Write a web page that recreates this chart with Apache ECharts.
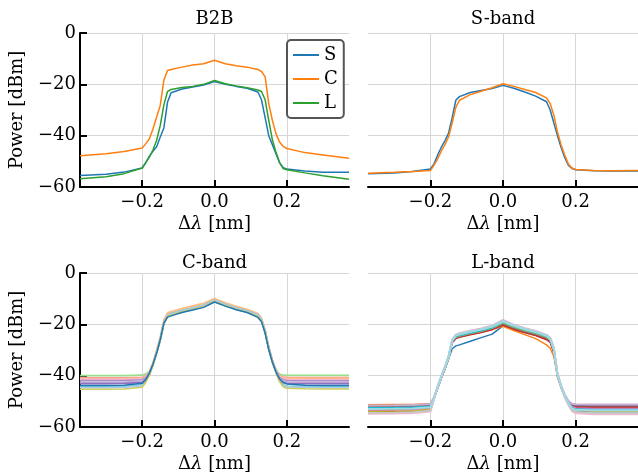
<!DOCTYPE html>
<html>
<head>
<meta charset="utf-8">
<script src="https://cdn.jsdelivr.net/npm/echarts@6/dist/echarts.min.js"></script>
<style>
  html, body { margin: 0; padding: 0; background: #fff; }
  #chart { width: 638px; height: 475px; }
</style>
</head>
<body>
<div id="chart"></div>
<script>
// Wavelength offset grid shared by every trace (nm)
const deltaLambda = [-0.372, -0.3, -0.25, -0.2, -0.19, -0.18, -0.17, -0.16, -0.15, -0.14, -0.13, -0.12, -0.09, -0.06, -0.03, 0,
  0.03, 0.06, 0.09, 0.12, 0.13, 0.14, 0.15, 0.16, 0.17, 0.18, 0.19, 0.2, 0.25, 0.3, 0.372];

const xTicks = [-0.2, 0, 0.2];
const yTicks = [0, -20, -40, -60];

const panelTitles = ['B2B', 'S-band', 'C-band', 'L-band'];
const b2bNames = ['S', 'C', 'L'];

// Back-to-back spectra (dBm)
const b2bS = [-55.5, -55.0, -54.2, -52.6, -50.5, -48.0, -46.0, -44.3, -40.5, -37.0, -27.0, -23.3, -21.8, -21.0, -20.3, -18.9,
  -20.0, -20.8, -21.5, -23.0, -26.0, -33.0, -40.0, -43.5, -47.0, -50.5, -52.5, -53.0, -53.8, -54.3, -54.3];
const b2bC = [-47.8, -47.0, -46.2, -44.8, -43.1, -41.2, -37.3, -32.7, -28.2, -18.4, -14.6, -14.2, -13.3, -12.5, -12.0, -10.6,
  -12.0, -12.8, -13.3, -14.2, -15.0, -17.0, -27.5, -34.0, -39.2, -42.5, -44.2, -45.0, -46.6, -47.5, -48.8];
const b2bL = [-56.8, -56.0, -54.8, -52.6, -50.5, -48.3, -45.5, -41.8, -36.0, -28.0, -22.8, -22.0, -21.2, -20.8, -20.0, -18.5,
  -19.8, -20.6, -21.3, -22.2, -22.8, -26.0, -34.0, -41.5, -46.5, -50.5, -52.8, -53.3, -54.5, -55.6, -57.0];

// S-band spectra
const sBandA = [-54.8, -54.5, -54.0, -53.0, -51.0, -47.5, -44.5, -42.0, -39.0, -33.0, -26.2, -24.8, -23.2, -22.4, -21.6, -20.4,
  -21.5, -23.0, -24.6, -26.8, -30.0, -35.0, -40.0, -44.5, -48.5, -51.5, -52.8, -53.3, -53.7, -53.8, -53.8];
const sBandB = [-54.6, -54.3, -54.0, -53.6, -51.5, -49.0, -46.0, -43.5, -40.5, -35.0, -29.0, -26.2, -24.0, -22.7, -21.3, -19.8,
  -20.8, -22.0, -23.2, -25.3, -27.5, -32.0, -38.5, -43.5, -47.5, -51.0, -52.6, -53.2, -53.6, -53.7, -53.6];

// C-band spectra, one list per channel
const cBandTraces = [
  [-40.0,-40.0,-40.0,-39.8,-39.3,-38.3,-35.0,-30.4,-25.3,-18.9,-16.2,-15.5,-14.4,-13.4,-12.4,-10.4,-12.1,-13.5,-14.6,-16.2,-17.9,-22.4,-28.9,-33.9,-37.6,-39.4,-39.8,-39.9,-39.9,-39.9,-39.9],
  [-40.8,-40.8,-40.8,-40.6,-40.0,-38.7,-35.2,-30.7,-25.7,-19.2,-16.6,-15.9,-14.7,-13.7,-12.7,-10.7,-12.3,-13.7,-14.8,-16.4,-18.1,-22.6,-29.1,-34.1,-37.9,-40.0,-40.5,-40.6,-40.7,-40.7,-40.7],
  [-41.2,-41.2,-41.1,-40.9,-40.2,-38.6,-34.8,-30.0,-24.8,-18.2,-15.5,-15.0,-13.8,-12.8,-11.8,-9.9,-11.6,-13.0,-14.1,-15.8,-17.5,-22.0,-28.6,-33.8,-37.8,-40.2,-40.8,-41.0,-41.0,-41.0,-41.0],
  [-41.4,-41.4,-41.4,-41.2,-40.5,-38.9,-35.3,-30.6,-25.6,-19.0,-16.4,-15.7,-14.5,-13.5,-12.5,-10.5,-12.1,-13.5,-14.6,-16.2,-17.9,-22.4,-28.9,-34.0,-37.9,-40.5,-41.2,-41.4,-41.5,-41.5,-41.5],
  [-41.9,-41.9,-41.9,-41.6,-40.8,-39.0,-35.5,-31.0,-26.0,-19.6,-17.0,-16.2,-15.0,-14.0,-13.0,-11.0,-12.6,-14.0,-15.1,-16.7,-18.5,-23.0,-29.4,-34.4,-38.1,-40.8,-41.6,-41.9,-42.0,-42.0,-42.0],
  [-42.5,-42.5,-42.5,-42.1,-41.2,-39.1,-35.6,-30.9,-25.9,-19.4,-16.8,-16.0,-14.8,-13.8,-12.8,-10.8,-12.4,-13.8,-14.9,-16.6,-18.3,-22.8,-29.3,-34.4,-38.2,-41.2,-42.1,-42.4,-42.5,-42.5,-42.5],
  [-43.1,-43.1,-43.0,-42.6,-41.5,-39.3,-35.7,-31.1,-26.1,-19.6,-17.0,-16.3,-15.1,-14.1,-13.1,-11.1,-12.7,-14.1,-15.2,-16.9,-18.6,-23.0,-29.5,-34.5,-38.4,-41.5,-42.6,-43.0,-43.1,-43.1,-43.1],
  [-44.2,-44.2,-44.1,-43.5,-42.0,-39.4,-35.6,-31.0,-25.8,-19.2,-16.6,-15.8,-14.6,-13.6,-12.6,-10.6,-12.2,-13.6,-14.7,-16.4,-18.1,-22.6,-29.2,-34.4,-38.4,-41.8,-43.4,-44.0,-44.2,-44.2,-44.2],
  [-44.7,-44.7,-44.6,-44.0,-42.3,-39.5,-35.7,-31.1,-26.0,-19.4,-16.8,-16.0,-14.8,-13.8,-12.8,-10.8,-12.4,-13.8,-14.9,-16.6,-18.3,-22.8,-29.4,-34.6,-38.6,-42.0,-43.8,-44.4,-44.6,-44.7,-44.7],
  [-45.3,-45.3,-45.2,-44.5,-42.6,-39.7,-35.9,-31.3,-26.2,-19.7,-17.1,-16.3,-15.1,-14.1,-13.1,-11.1,-12.7,-14.1,-15.2,-16.9,-18.6,-23.1,-29.7,-34.9,-38.9,-42.4,-44.3,-44.9,-45.1,-45.2,-45.2],
  [-43.8,-43.8,-43.7,-43.0,-41.5,-39.0,-35.5,-31.2,-26.0,-19.5,-17.2,-16.7,-15.4,-14.4,-13.4,-11.3,-12.9,-14.3,-15.4,-17.3,-19.0,-23.5,-29.8,-34.8,-38.6,-41.3,-42.7,-43.2,-43.7,-43.8,-43.8]
];

// L-band spectra, one list per channel
const lBandTraces = [
  [-52.8,-52.7,-52.6,-52.2,-48.8,-45.0,-41.0,-37.5,-33.5,-29.5,-28.4,-28.0,-26.6,-25.2,-23.8,-20.6,-22.0,-23.2,-24.3,-25.8,-26.8,-30.8,-40.0,-44.5,-48.0,-50.6,-52.0,-52.4,-52.6,-52.6,-52.6],
  [-51.3,-51.2,-51.2,-50.8,-48.6,-44.8,-40.8,-37.2,-33.2,-27.0,-25.4,-24.9,-23.9,-23.0,-22.0,-20.8,-22.4,-24.0,-25.6,-28.0,-29.3,-32.5,-40.5,-44.8,-48.3,-51.0,-52.8,-53.2,-53.4,-53.4,-53.4],
  [-53.2,-53.1,-53.0,-52.5,-48.8,-44.8,-40.8,-37.3,-33.3,-27.0,-25.4,-24.9,-23.9,-23.0,-21.9,-20.0,-21.6,-22.9,-24.0,-25.6,-26.7,-30.6,-39.8,-44.3,-47.9,-50.5,-52.2,-52.8,-53.0,-53.0,-53.0],
  [-54.0,-53.9,-53.8,-53.2,-49.0,-44.9,-40.9,-37.4,-33.4,-27.2,-25.6,-25.1,-24.1,-23.2,-22.1,-20.3,-21.9,-23.2,-24.4,-26.0,-27.1,-31.0,-40.0,-44.4,-47.9,-50.3,-51.8,-52.2,-52.4,-52.4,-52.4],
  [-52.2,-52.1,-52.0,-51.6,-48.6,-44.6,-40.6,-37.1,-33.1,-26.8,-25.1,-24.6,-23.6,-22.7,-21.6,-19.8,-21.4,-22.7,-23.8,-25.3,-26.4,-30.3,-39.6,-44.1,-47.6,-50.0,-51.2,-51.5,-51.6,-51.6,-51.6],
  [-51.8,-51.8,-51.7,-51.3,-48.5,-44.6,-40.6,-37.1,-33.1,-26.8,-25.2,-24.7,-23.7,-22.8,-21.7,-19.9,-21.5,-22.8,-23.9,-25.4,-26.5,-30.4,-39.7,-44.2,-47.7,-50.2,-51.5,-51.9,-52.0,-52.0,-52.0],
  [-53.6,-53.5,-53.4,-52.9,-48.8,-44.7,-40.7,-37.1,-33.1,-26.7,-25.0,-24.5,-23.5,-22.6,-21.5,-19.5,-21.2,-22.5,-23.6,-25.1,-26.2,-30.2,-39.6,-44.1,-47.7,-50.3,-52.0,-52.6,-52.8,-52.8,-52.8],
  [-54.4,-54.3,-54.2,-53.6,-49.0,-44.8,-40.8,-37.2,-33.2,-26.8,-25.1,-24.6,-23.6,-22.7,-21.6,-19.6,-21.3,-22.6,-23.7,-25.2,-26.3,-30.3,-39.8,-44.4,-48.2,-51.0,-53.2,-53.9,-54.2,-54.2,-54.2],
  [-53.9,-53.8,-53.7,-53.2,-48.9,-44.7,-40.7,-37.1,-33.1,-26.7,-25.0,-24.5,-23.5,-22.6,-21.5,-19.4,-21.1,-22.4,-23.5,-25.0,-26.1,-30.1,-39.7,-44.3,-48.0,-50.8,-52.8,-53.4,-53.7,-53.7,-53.7],
  [-52.5,-52.4,-52.3,-51.9,-48.6,-44.6,-40.6,-37.0,-33.0,-26.6,-24.9,-24.4,-23.4,-22.5,-21.4,-19.2,-20.9,-22.2,-23.3,-24.8,-25.9,-29.9,-39.5,-44.1,-47.8,-50.6,-52.4,-53.0,-53.2,-53.2,-53.2],
  [-54.8,-54.7,-54.6,-54.0,-48.8,-44.3,-40.3,-36.6,-32.6,-26.0,-24.0,-23.5,-22.5,-21.6,-20.5,-18.3,-20.2,-21.5,-22.6,-24.1,-25.2,-29.2,-39.2,-44.2,-48.2,-51.3,-53.8,-54.6,-55.0,-55.0,-55.0],
  [-51.6,-51.5,-51.4,-51.0,-48.3,-44.3,-40.3,-36.7,-32.7,-26.2,-24.3,-23.8,-22.8,-21.9,-20.8,-18.6,-20.4,-21.7,-22.8,-24.3,-25.4,-29.4,-39.2,-43.8,-47.3,-49.8,-50.9,-51.1,-51.2,-51.2,-51.2],
  [-54.5,-54.4,-54.3,-53.7,-48.8,-44.4,-40.4,-36.7,-32.7,-26.1,-24.1,-23.6,-22.6,-21.7,-20.6,-18.5,-20.3,-21.6,-22.7,-24.2,-25.3,-29.3,-39.3,-44.2,-48.1,-51.1,-53.4,-54.2,-54.6,-54.6,-54.6],
  [-53.0,-52.9,-52.8,-52.3,-48.6,-44.4,-40.4,-36.8,-32.8,-26.3,-24.4,-23.9,-22.9,-22.0,-20.9,-18.9,-20.6,-21.9,-23.0,-24.5,-25.6,-29.6,-39.4,-44.1,-47.9,-50.8,-52.7,-53.3,-53.5,-53.5,-53.5]
];

// ---- styling ----
const FONT = 'DejaVu Serif';
const FS = 18;
const tab = ['#1f77b4', '#ff7f0e', '#2ca02c'];
const cBandColors = ['#98df8a', '#ff9896', '#ffbb78', '#f7b6d2', '#a88bc9', '#c5b0d5', '#8f6fbf',
  '#7fd3dd', '#aec7e8', '#cdce5e', '#1f77b4'];
const lBandColors = ['#1f77b4', '#ff7f0e', '#2ca02c', '#d62728', '#9467bd', '#8c564b', '#e377c2',
  '#7f7f7f', '#bcbd22', '#17becf', '#f7b6d2', '#c5b0d5', '#c7c7c7', '#9edae5'];

const minus = s => String(s).replace('-', '\u2212');
const grids = [
  { left: 80, top: 33, width: 269, height: 154 },
  { left: 368, top: 33, width: 270, height: 154 },
  { left: 80, top: 273, width: 269, height: 154 },
  { left: 368, top: 273, width: 270, height: 154 }
];
const gridStroke = { color: '#d6d6d6', width: 1 };

function xAxis(gi) {
  return {
    type: 'value', gridIndex: gi, min: -0.372, max: 0.372,
    axisLine: { show: true, onZero: false, lineStyle: { color: '#000', width: 2 } },
    axisTick: { show: true, inside: true, length: 7, customValues: xTicks, lineStyle: { color: '#000', width: 2 } },
    axisLabel: { customValues: xTicks, margin: 6, color: '#000', fontFamily: FONT, fontSize: FS,
      formatter: v => minus(v.toFixed(1)) },
    splitLine: { show: true, lineStyle: gridStroke },
    name: 'Δ{i|λ} [nm]', nameLocation: 'middle', nameGap: 28,
    nameTextStyle: { color: '#000', fontFamily: FONT, fontSize: FS,
      rich: { i: { fontStyle: 'italic', fontFamily: FONT, fontSize: FS, color: '#000' } } }
  };
}
function yAxis(gi, labelled) {
  const ax = {
    type: 'value', gridIndex: gi, min: -60, max: 0, interval: 20,
    splitLine: { show: true, lineStyle: gridStroke }
  };
  if (labelled) {
    Object.assign(ax, {
      axisLine: { show: true, onZero: false, lineStyle: { color: '#000', width: 2 } },
      axisTick: { show: true, inside: true, length: 7, lineStyle: { color: '#000', width: 2 } },
      axisLabel: { margin: 4, color: '#000', fontFamily: FONT, fontSize: FS, formatter: v => minus(v) },
      name: 'Power [dBm]', nameLocation: 'middle', nameGap: 54,
      nameTextStyle: { color: '#000', fontFamily: FONT, fontSize: FS }
    });
  } else {
    Object.assign(ax, { axisLine: { show: false }, axisTick: { show: false }, axisLabel: { show: false } });
  }
  return ax;
}

function lineSeries(name, values, gi, color, width) {
  return {
    type: 'line', name, xAxisIndex: gi, yAxisIndex: gi,
    data: deltaLambda.map((x, i) => [x, values[i]]),
    showSymbol: false, symbol: 'none', silent: true,
    lineStyle: { color, width: width || 1.5 }, itemStyle: { color }
  };
}

const series = [];
[b2bS, b2bC, b2bL].forEach((v, k) => series.push(lineSeries(b2bNames[k], v, 0, tab[k])));
series.push(lineSeries('s-a', sBandA, 1, tab[0]));
series.push(lineSeries('s-b', sBandB, 1, tab[1]));
cBandTraces.forEach((v, k) => series.push(lineSeries('c-' + k, v, 2, cBandColors[k], k === cBandTraces.length - 1 ? 1.5 : 1.6)));
lBandTraces.forEach((v, k) => series.push(lineSeries('l-' + k, v, 3, lBandColors[k], k >= 10 ? 2 : 1.4)));

const titleCenters = [[214.5, 19], [503, 19], [214.5, 263], [503, 263]];
const graphic = panelTitles.map((t, k) => ({
  type: 'text', x: titleCenters[k][0], y: titleCenters[k][1],
  style: { text: t, fill: '#000', font: FS + 'px "' + FONT + '"', textAlign: 'center', textVerticalAlign: 'middle' }
}));

const chart = echarts.init(document.getElementById('chart'), null, { renderer: 'canvas' });
chart.setOption({
  animation: false,
  backgroundColor: '#fff',
  grid: grids,
  xAxis: [0, 1, 2, 3].map(xAxis),
  yAxis: [yAxis(0, true), yAxis(1, false), yAxis(2, true), yAxis(3, false)],
  legend: {
    data: b2bNames, orient: 'vertical', left: 287, top: 40,
    padding: [6, 6, 6, 6], itemGap: 6, itemWidth: 26, itemHeight: 2, icon: 'rect',
    borderColor: '#555', borderWidth: 2, borderRadius: 4, backgroundColor: 'rgba(255,255,255,0.85)',
    textStyle: { color: '#000', fontFamily: FONT, fontSize: FS, lineHeight: 17 },
    selectedMode: false
  },
  graphic,
  series
});
</script>
</body>
</html>
